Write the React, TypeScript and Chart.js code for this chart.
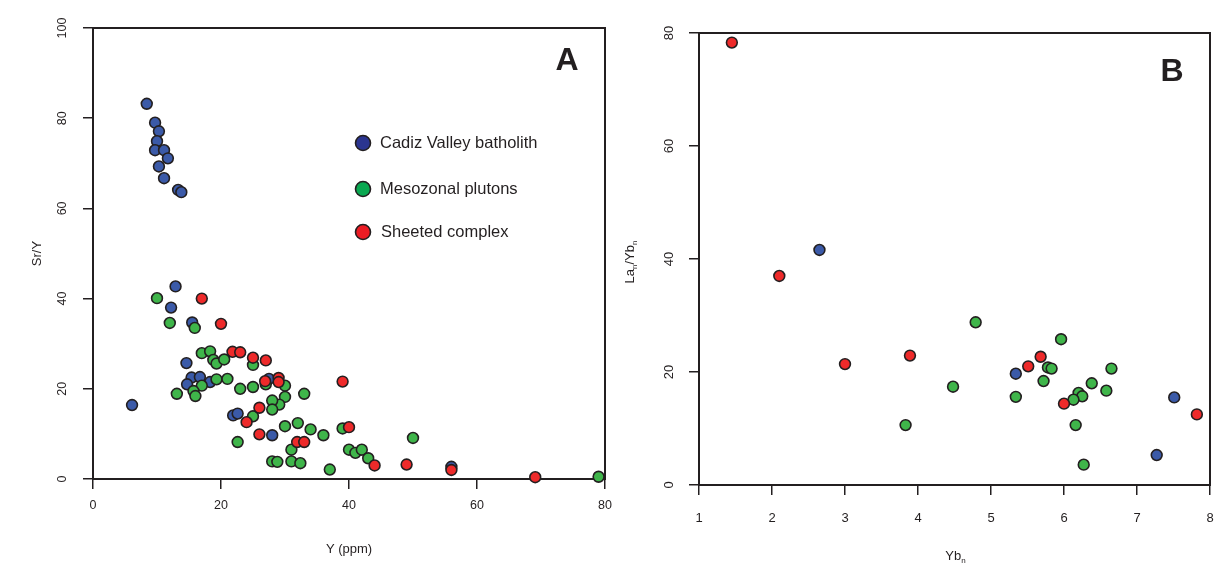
import React, { useEffect, useRef } from "react";
import { Chart, registerables } from "chart.js";

Chart.register(...registerables);

// ---------- data ----------
const GROUPS = ["Cadiz Valley batholith", "Mesozonal plutons", "Sheeted complex"];

// Panel A : Y (ppm) vs Sr/Y
const A_CADIZ_X = [8.4, 9.7, 10.3, 10.0, 9.7, 11.1, 11.7, 10.3, 11.1, 13.3, 13.8, 12.9, 12.2, 15.5, 14.6, 15.4, 16.7, 14.7, 18.3, 6.1, 21.9, 22.6, 28.0, 27.5, 56.0];
const A_CADIZ_Y = [83.2, 79.0, 77.1, 74.9, 72.9, 72.9, 71.1, 69.3, 66.7, 64.1, 63.6, 42.7, 38.0, 34.7, 25.7, 22.5, 22.6, 21.0, 21.5, 16.4, 14.1, 14.5, 9.7, 22.2, 2.7];

const A_MESO_X = [10.0, 12.0, 15.9, 17.0, 18.3, 18.8, 19.3, 20.5, 25.0, 19.3, 21.0, 17.0, 13.1, 15.7, 16.0, 23.0, 25.0, 27.0, 30.0, 33.0, 30.0, 29.1, 28.0, 28.0, 25.0, 22.6, 30.0, 32.0, 34.0, 36.0, 39.0, 31.0, 28.0, 28.8, 31.0, 32.4, 37.0, 40.0, 41.0, 42.0, 43.0, 50.0, 79.0];
const A_MESO_Y = [40.1, 34.6, 33.5, 27.9, 28.3, 26.4, 25.6, 26.5, 25.3, 22.1, 22.2, 20.7, 18.9, 19.5, 18.4, 20.0, 20.4, 21.0, 20.7, 18.9, 18.2, 16.5, 17.4, 15.4, 13.9, 8.2, 11.7, 12.4, 11.0, 9.7, 11.2, 6.5, 3.9, 3.8, 3.9, 3.5, 2.1, 6.5, 5.8, 6.5, 4.6, 9.1, 0.5];

const A_SHEET_X = [17.0, 20.0, 21.8, 23.0, 25.0, 27.0, 26.9, 29.0, 29.0, 39.0, 26.0, 24.0, 26.0, 31.9, 33.0, 40.0, 44.0, 49.0, 56.0, 69.1];
const A_SHEET_Y = [40.0, 34.4, 28.2, 28.1, 26.9, 26.3, 21.7, 22.4, 21.5, 21.6, 15.8, 12.6, 9.9, 8.2, 8.2, 11.5, 3.0, 3.2, 2.0, 0.4];

// Panel B : Yb_n vs La_n/Yb_n
const B_CADIZ_X = [2.65, 5.34, 7.51, 7.27];
const B_CADIZ_Y = [41.6, 19.7, 15.5, 5.3];

const B_MESO_X = [4.79, 5.96, 5.78, 5.83, 6.65, 5.72, 4.48, 6.38, 6.58, 6.20, 6.25, 6.13, 5.34, 3.83, 6.16, 6.27];
const B_MESO_Y = [28.8, 25.8, 20.8, 20.6, 20.6, 18.4, 17.4, 18.0, 16.7, 16.3, 15.7, 15.1, 15.6, 10.6, 10.6, 3.6];

const B_SHEET_X = [1.45, 2.10, 3.89, 5.68, 3.0, 5.51, 6.0, 7.82];
const B_SHEET_Y = [78.3, 37.0, 22.9, 22.7, 21.4, 21.0, 14.4, 12.5];

// ticks
const A_X_TICKS = [0, 20, 40, 60, 80];
const A_Y_TICKS = [0, 20, 40, 60, 80, 100];
const B_X_TICKS = [1, 2, 3, 4, 5, 6, 7, 8];
const B_Y_TICKS = [0, 20, 40, 60, 80];

// ---------- styles ----------
const INK = "#231f20";
const FONT = '"Liberation Sans", Arial, Helvetica, sans-serif';
const NARROW = '"Liberation Sans Narrow", "Liberation Sans", Arial, sans-serif';
const POINT_COLORS = ["#3b5aa8", "#3fb54a", "#ee2a2a"];
const LEGEND_COLORS = ["#2b3590", "#0aa851", "#ec1c24"];

const toPts = (xs: number[], ys: number[]) => xs.map((x, i) => ({ x, y: ys[i] }));

function dataset(label: string, xs: number[], ys: number[], color: string) {
  return {
    label,
    data: toPts(xs, ys),
    backgroundColor: color,
    borderColor: INK,
    pointRadius: 5.4,
    pointHoverRadius: 5.4,
    pointBorderWidth: 1.6,
    pointBackgroundColor: color,
    pointBorderColor: INK,
    showLine: false,
    clip: false as any,
  };
}

function makeScale(opts: {
  pos: "bottom" | "left";
  min: number;
  max: number;
  ticks: number[];
  font: any;
  pad: number;
  size: number;
  title?: any;
}) {
  const vertical = opts.pos === "left";
  return {
    type: "linear" as const,
    position: opts.pos,
    min: opts.min,
    max: opts.max,
    afterBuildTicks: (s: any) => {
      s.ticks = opts.ticks.map((v) => ({ value: v }));
    },
    afterFit: (s: any) => {
      if (vertical) s.width = opts.size;
      else s.height = opts.size;
      s.paddingLeft = 0;
      s.paddingRight = 0;
      s.paddingTop = 0;
      s.paddingBottom = 0;
    },
    ticks: {
      autoSkip: false,
      color: INK,
      font: opts.font,
      padding: opts.pad,
      minRotation: vertical ? 90 : 0,
      maxRotation: vertical ? 90 : 0,
      crossAlign: vertical ? ("center" as const) : ("near" as const),
    },
    grid: {
      display: true,
      drawOnChartArea: false,
      drawTicks: true,
      tickLength: 10,
      color: INK,
      lineWidth: 1.5,
    },
    border: { display: true, color: INK, width: 2 },
    title: opts.title || { display: false },
  };
}

const framePlugin = {
  id: "frame",
  beforeDatasetsDraw(chart: any) {
    const { ctx, chartArea } = chart;
    const { left, top, right, bottom } = chartArea;
    ctx.save();
    ctx.strokeStyle = INK;
    ctx.lineWidth = 2;
    ctx.beginPath();
    ctx.moveTo(left - 1, top);
    ctx.lineTo(right, top);
    ctx.lineTo(right, bottom + 1);
    ctx.stroke();
    ctx.restore();
  },
};

function letterPlugin(letter: string, dx: number, dy: number) {
  return {
    id: "letter" + letter,
    afterDraw(chart: any) {
      const { ctx, chartArea } = chart;
      ctx.save();
      ctx.fillStyle = INK;
      ctx.font = `bold 32px ${FONT}`;
      ctx.textAlign = "center";
      ctx.textBaseline = "middle";
      ctx.fillText(letter, chartArea.right - dx, chartArea.top + dy);
      ctx.restore();
    },
  };
}

const legendPlugin = {
  id: "groupLegend",
  afterDraw(chart: any) {
    const { ctx, chartArea } = chart;
    const cx = chartArea.left + 270;
    const rows = [chartArea.top + 115, chartArea.top + 161, chartArea.top + 204];
    ctx.save();
    GROUPS.forEach((g, i) => {
      ctx.beginPath();
      ctx.arc(cx, rows[i], 7.5, 0, Math.PI * 2);
      ctx.fillStyle = LEGEND_COLORS[i];
      ctx.fill();
      ctx.lineWidth = 1.6;
      ctx.strokeStyle = INK;
      ctx.stroke();
      ctx.fillStyle = INK;
      ctx.font = `16.5px ${FONT}`;
      ctx.textAlign = "left";
      ctx.textBaseline = "middle";
      ctx.fillText(g, cx + 17 + (i === 2 ? 1 : 0), rows[i]);
    });
    ctx.restore();
  },
};

// draws text with subscript parts: parts = [[text, isSub], ...]
function drawSubText(ctx: any, parts: [string, boolean][], x: number, y: number, rot: number, size: number) {
  const subSize = size * 0.62;
  ctx.save();
  ctx.translate(x, y);
  ctx.rotate(rot);
  let total = 0;
  parts.forEach(([t, sub]) => {
    ctx.font = `${sub ? subSize : size}px ${FONT}`;
    total += ctx.measureText(t).width;
  });
  let cur = -total / 2;
  ctx.fillStyle = INK;
  ctx.textBaseline = "middle";
  ctx.textAlign = "left";
  parts.forEach(([t, sub]) => {
    ctx.font = `${sub ? subSize : size}px ${FONT}`;
    ctx.fillText(t, cur, sub ? size * 0.38 : 0);
    cur += ctx.measureText(t).width;
  });
  ctx.restore();
}

const bTitlesPlugin = {
  id: "bTitles",
  afterDraw(chart: any) {
    const { ctx, chartArea } = chart;
    const midY = (chartArea.top + chartArea.bottom) / 2;
    const midX = (chartArea.left + chartArea.right) / 2;
    drawSubText(ctx, [["La", false], ["n", true], ["/Yb", false], ["n", true]], 12, midY + 3, -Math.PI / 2, 13);
    drawSubText(ctx, [["Yb", false], ["n", true]], midX + 1, 556, 0, 13);
  },
};

function ChartCanvas({ width, height, left, build }: { width: number; height: number; left: number; build: (c: HTMLCanvasElement) => Chart }) {
  const ref = useRef<HTMLCanvasElement>(null);
  useEffect(() => {
    if (!ref.current) return;
    const chart = build(ref.current);
    return () => chart.destroy();
  }, []);
  return (
    <canvas
      ref={ref}
      width={width}
      height={height}
      style={{ position: "absolute", left, top: 0, width, height }}
    />
  );
}

function buildA(canvas: HTMLCanvasElement) {
  return new Chart(canvas, {
    type: "scatter",
    data: {
      datasets: [
        dataset(GROUPS[2], A_SHEET_X, A_SHEET_Y, POINT_COLORS[2]),
        dataset(GROUPS[1], A_MESO_X, A_MESO_Y, POINT_COLORS[1]),
        dataset(GROUPS[0], A_CADIZ_X, A_CADIZ_Y, POINT_COLORS[0]),
      ] as any,
    },
    options: {
      animation: false,
      responsive: false,
      maintainAspectRatio: false,
      events: [],
      layout: { autoPadding: false, padding: { left: 0, top: 28, right: 13, bottom: 0 } },
      plugins: { legend: { display: false }, tooltip: { enabled: false } },
      scales: {
        x: makeScale({
          pos: "bottom", min: 0, max: 80, ticks: A_X_TICKS,
          font: { family: NARROW, size: 12.5 }, pad: 9, size: 84,
          title: { display: true, text: "Y (ppm)", color: INK, font: { family: NARROW, size: 13 }, padding: { top: 0, bottom: 6 } },
        }),
        y: makeScale({
          pos: "left", min: 0, max: 100, ticks: A_Y_TICKS,
          font: { family: NARROW, size: 12.5 }, pad: 10, size: 93,
          title: { display: true, text: "Sr/Y", color: INK, font: { family: FONT, size: 13 }, padding: { top: 30, bottom: 0 } },
        }),
      } as any,
    },
    plugins: [framePlugin, legendPlugin, letterPlugin("A", 38, 33)],
  });
}

function buildB(canvas: HTMLCanvasElement) {
  return new Chart(canvas, {
    type: "scatter",
    data: {
      datasets: [
        dataset(GROUPS[2], B_SHEET_X, B_SHEET_Y, POINT_COLORS[2]),
        dataset(GROUPS[1], B_MESO_X, B_MESO_Y, POINT_COLORS[1]),
        dataset(GROUPS[0], B_CADIZ_X, B_CADIZ_Y, POINT_COLORS[0]),
      ] as any,
    },
    options: {
      animation: false,
      responsive: false,
      maintainAspectRatio: false,
      events: [],
      layout: { autoPadding: false, padding: { left: 0, top: 33, right: 4, bottom: 0 } },
      plugins: { legend: { display: false }, tooltip: { enabled: false } },
      scales: {
        x: makeScale({
          pos: "bottom", min: 1, max: 8, ticks: B_X_TICKS,
          font: { family: FONT, size: 13 }, pad: 16, size: 78,
        }),
        y: makeScale({
          pos: "left", min: 0, max: 80, ticks: B_Y_TICKS,
          font: { family: FONT, size: 13 }, pad: 12, size: 81,
        }),
      } as any,
    },
    plugins: [framePlugin, bTitlesPlugin, letterPlugin("B", 38, 39)],
  });
}

export default function App() {
  return (
    <div style={{ position: "fixed", left: 0, top: 0, width: 1214, height: 563, background: "#fff", overflow: "hidden" }}>
      <ChartCanvas width={618} height={563} left={0} build={buildA} />
      <ChartCanvas width={596} height={563} left={618} build={buildB} />
    </div>
  );
}
